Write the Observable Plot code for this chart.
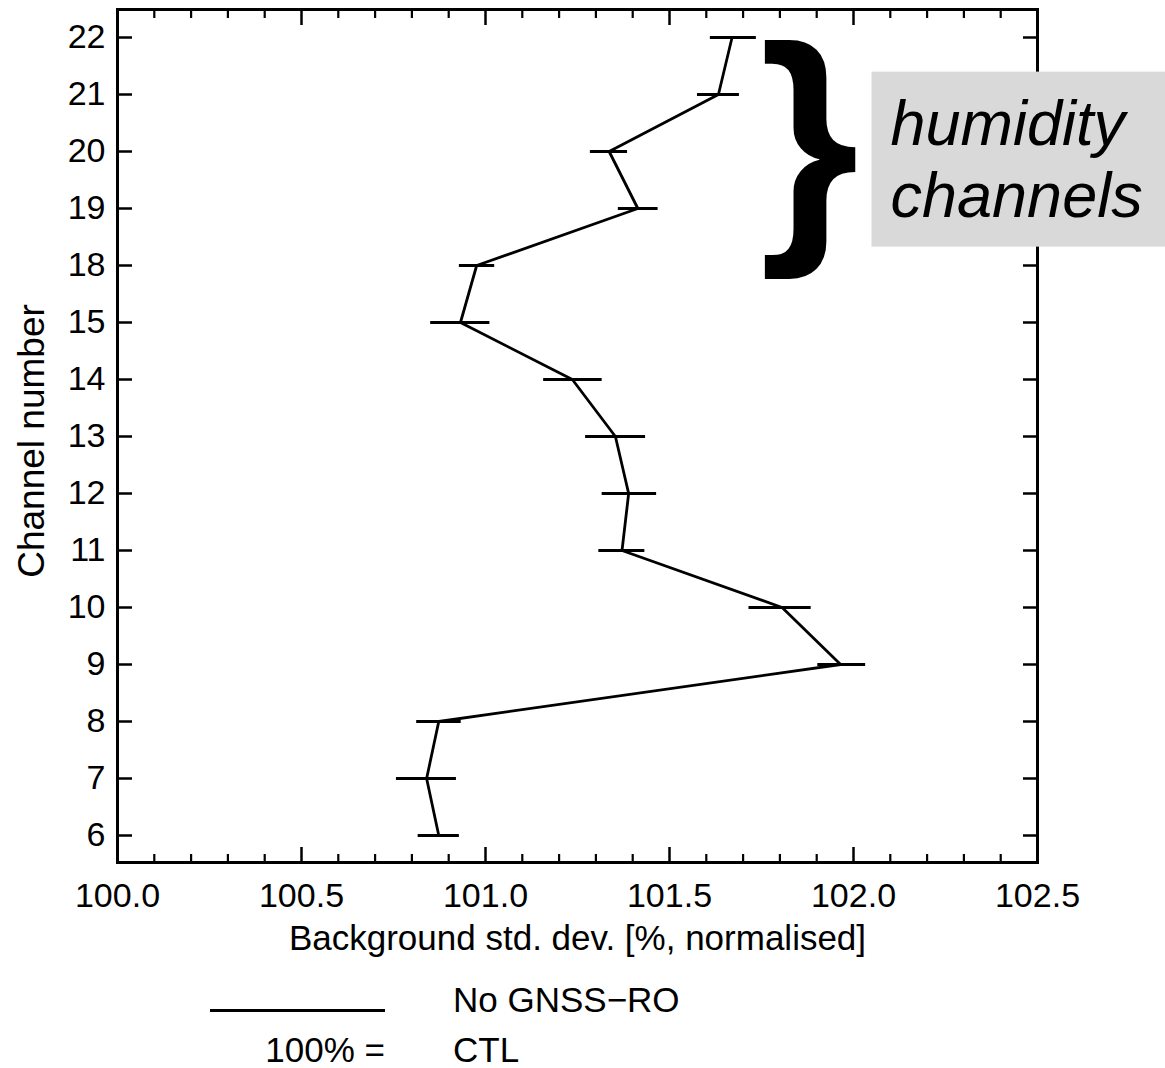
<!DOCTYPE html>
<html><head><meta charset="utf-8">
<script src="https://cdn.jsdelivr.net/npm/d3@7"></script>
<script src="https://cdn.jsdelivr.net/npm/@observablehq/plot@0.6"></script>
<style>
html,body{margin:0;padding:0;background:#fff;}
#wrap{position:relative;width:1165px;height:1068px;overflow:hidden;font-family:"Liberation Sans",Arial,sans-serif;color:#000;background:#fff;}
.lg{position:absolute;font-size:35px;line-height:35px;white-space:nowrap;}
</style></head><body><div id="wrap"></div>
<script>
// ---- data ----
const channels = ["6","7","8","9","10","11","12","13","14","15","18","19","20","21","22"];
const stdDev   = [100.873,100.840,100.873,101.965,101.806,101.371,101.389,101.353,101.236,100.932,100.976,101.414,101.336,101.633,101.670];
const barLow   = [100.817,100.758,100.813,101.903,101.716,101.308,101.317,101.272,101.158,100.851,100.929,101.361,101.285,101.576,101.611];
const barHigh  = [100.929,100.921,100.934,102.033,101.885,101.433,101.465,101.435,101.317,101.012,101.025,101.469,101.386,101.690,101.736];
const xMajorTicks = [100.0,100.5,101.0,101.5,102.0,102.5];
const xMinorTicks = [100.1,100.2,100.3,100.4,100.6,100.7,100.8,100.9,101.1,101.2,101.3,101.4,101.6,101.7,101.8,101.9,102.1,102.2,102.3,102.4];
const xLabel = "Background std. dev. [%, normalised]";
const yLabel = "Channel number";
const braceText = "}";
const annotationText = "humidity\nchannels";
const seriesName = "No GNSS\u2212RO";
const refLabel = "100% =";
const refName = "CTL";

const data = channels.map((c, i) => ({ch: c, v: stdDev[i], lo: barLow[i], hi: barHigh[i]}));
const noLabel = () => "";

const plot = Plot.plot({
  width: 1165,
  height: 965,
  marginLeft: 117,
  marginRight: 128,
  marginTop: 9,
  marginBottom: 103,
  style: {fontFamily: '"Liberation Sans", Arial, sans-serif', fontSize: "34px", color: "#000", background: "#fff", overflow: "visible"},
  x: {domain: [100, 102.5], label: null},
  y: {type: "point", domain: channels.slice().reverse(), padding: 0.42, label: null},
  marks: [
    Plot.ruleY(data, {y: "ch", x1: "lo", x2: "hi", stroke: "#000", strokeWidth: 3}),
    Plot.line(data, {x: "v", y: "ch", stroke: "#000", strokeWidth: 2.8}),
    Plot.frame({stroke: "#000", strokeWidth: 3}),
    // x labels
    Plot.axisX({anchor: "bottom", ticks: xMajorTicks, tickSize: 0, tickPadding: 20, tickFormat: ".1f", label: null, fontSize: 34}),
    // x ticks (inward), bottom and top
    Plot.axisX({anchor: "bottom", ticks: xMajorTicks, tickSize: -15, tickFormat: noLabel, label: null, strokeWidth: 2.5}),
    Plot.axisX({anchor: "bottom", ticks: xMinorTicks, tickSize: -8, tickFormat: noLabel, label: null, strokeWidth: 2.2}),
    Plot.axisX({anchor: "top", ticks: xMajorTicks, tickSize: -15, tickFormat: noLabel, label: null, strokeWidth: 2.5}),
    Plot.axisX({anchor: "top", ticks: xMinorTicks, tickSize: -8, tickFormat: noLabel, label: null, strokeWidth: 2.2}),
    // y labels and ticks
    Plot.axisY({anchor: "left", tickSize: 0, tickPadding: 12, label: null, fontSize: 34}),
    Plot.axisY({anchor: "left", tickSize: -15, tickFormat: noLabel, label: null, strokeWidth: 2.5}),
    Plot.axisY({anchor: "right", tickSize: -15, tickFormat: noLabel, label: null, strokeWidth: 2.5}),
    // axis titles
    Plot.text([xLabel], {frameAnchor: "bottom", text: d => d, textAnchor: "middle", lineAnchor: "middle", dy: 76, fontSize: 35, fill: "#000"}),
    Plot.text([yLabel], {frameAnchor: "left", text: d => d, textAnchor: "middle", lineAnchor: "middle", rotate: -90, dx: -85, dy: 5, fontSize: 37, fill: "#000"}),
    // annotation
    Plot.text([braceText], {frameAnchor: "top-right", text: d => d, textAnchor: "start", lineAnchor: "middle", fontSize: 256, fontWeight: "bold", dx: -278, dy: 135, fill: "#000"}),
    Plot.text([annotationText], {frameAnchor: "top-right", text: d => d, textAnchor: "start", lineAnchor: "top", fontSize: 63, fontStyle: "italic", lineHeight: 1.143, dx: -147, dy: 84, fill: "#000"})
  ]
});

const wrap = document.getElementById("wrap");
wrap.appendChild(plot);

// grey box behind the annotation text
const annot = Array.from(plot.querySelectorAll("text")).find(t => t.textContent.includes("humidity"));
if (annot) {
  const bb = annot.getBBox();
  const rect = document.createElementNS("http://www.w3.org/2000/svg", "rect");
  rect.setAttribute("x", bb.x - 19);
  rect.setAttribute("y", bb.y - 16);
  rect.setAttribute("width", bb.width + 80);
  rect.setAttribute("height", bb.height + 33);
  rect.setAttribute("fill", "#d9d9d9");
  rect.setAttribute("stroke", "none");
  const tr = annot.getAttribute("transform");
  if (tr) rect.setAttribute("transform", tr);
  annot.parentNode.insertBefore(rect, annot);
}

// legend below the chart
function addDiv(cls, styles, text) {
  const d = document.createElement("div");
  d.className = cls;
  Object.assign(d.style, styles);
  if (text != null) d.textContent = text;
  wrap.appendChild(d);
  return d;
}
addDiv("", {position: "absolute", left: "210px", top: "1008.5px", width: "175px", height: "3px", background: "#000"});
addDiv("lg", {left: "453px", top: "982px"}, seriesName);
addDiv("lg", {right: "780px", top: "1032px", textAlign: "right"}, refLabel);
addDiv("lg", {left: "453px", top: "1032px"}, refName);
</script>
</body></html>
